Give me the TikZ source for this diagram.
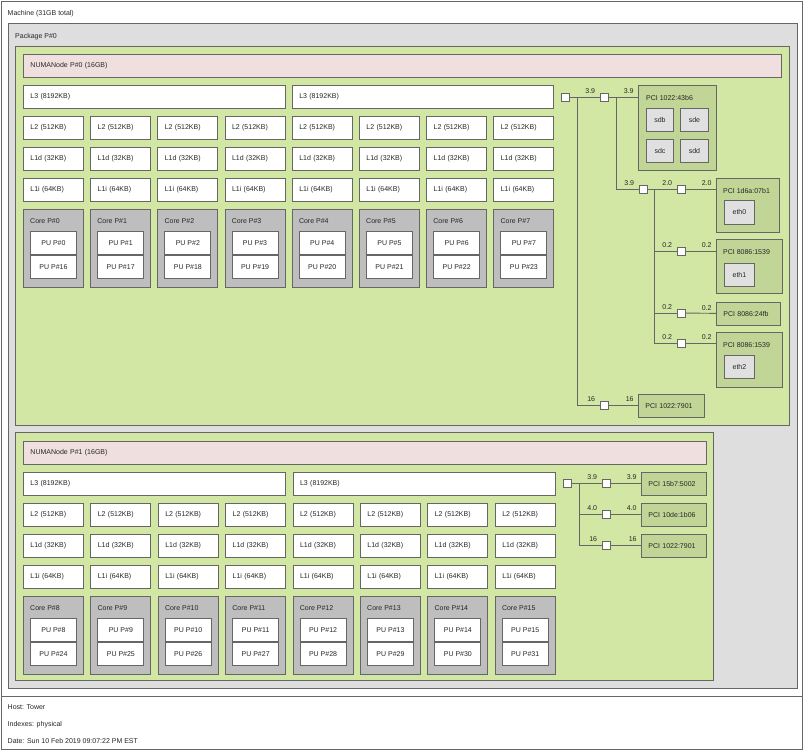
\documentclass[tikz,border=0pt]{standalone}
\usepackage{fontspec}
\setmainfont{Liberation Sans}
\usepackage{tikz}
\usetikzlibrary{positioning}
\definecolor{pkgfill}{HTML}{DEDEDE}
\definecolor{groupfill}{HTML}{D2E7A4}
\definecolor{numafill}{HTML}{EFDFDE}
\definecolor{corefill}{HTML}{BEBEBE}
\definecolor{pcifill}{HTML}{C1D596}
\definecolor{osfill}{HTML}{E0E0E0}
\newcommand{\topofont}{\fontsize{7}{8}\selectfont}
\tikzset{
frame/.style = {draw=black!60, line width=0.9pt, rectangle, inner sep=0pt, anchor=north west},
leaf/.style = {frame, fill=white, align=left, inner xsep=7pt, font=\topofont, text=black!85},
cache/.style = {leaf, text width=46pt, minimum height=23pt},
core/.style = {frame, fill=corefill, minimum width=60pt, minimum height=78pt},
pu/.style = {frame, fill=white, minimum width=46pt, minimum height=23pt, font=\topofont, text=black!85},
osdev/.style = {frame, fill=osfill, font=\topofont, text=black!85},
txt/.style = {inner sep=0pt, font=\topofont, text=black!85},
bridge/.style = {draw=black!60, line width=0.9pt, fill=white, minimum size=8pt, inner sep=0pt},
link/.style = {draw=black!60, line width=0.9pt},
speed/.style = {txt, pos=1, anchor=south east, xshift=-4pt, yshift=2.5pt}
}

\begin{document}
\begin{tikzpicture}[x=1pt, y=-1pt]
    \useasboundingbox (0,0) rectangle (805,750);
    % the outer boxes
    \node [frame, fill=white, minimum width=801pt, minimum height=695.5pt] (machine) at (0.5,0.5) {};
    \node [txt, below right=9.25pt and 7pt of machine.north west] (machineLbl) {Machine (31GB total)};
    \node [frame, fill=white, minimum width=801pt, minimum height=53pt] (legend) at (0.5,696) {};
    \node [txt, below right=8.5pt and 7pt of legend.north west] (host) {Host: Tower};
    \node [txt, below right=25.5pt and 7pt of legend.north west] (indexes) {Indexes: physical};
    \node [txt, below right=42.5pt and 7pt of legend.north west] (date) {Date: Sun 10 Feb 2019 09:07:22 PM EST};

    \node [frame, fill=pkgfill, minimum width=789pt, minimum height=665pt] (pkg) at (8,23) {};
    \node [txt, below right=10.25pt and 7pt of pkg.north west] (pkgLbl) {Package P\#0};
    \node [frame, fill=groupfill, minimum width=774pt, minimum height=379pt] (group0) at (15,46) {};
    \node [frame, fill=groupfill, minimum width=698pt, minimum height=248pt] (group1) at (15,432) {};
    \node [leaf, fill=numafill, text width=744pt, minimum height=23pt] (numa0) at (23,54) {NUMANode P\#0 (16GB)};
    \node [leaf, fill=numafill, text width=669pt, minimum height=23pt] (numa1) at (23,441) {NUMANode P\#1 (16GB)};

    % caches, cores and PUs
    \node [leaf, text width=247.6pt, minimum height=23pt] (L3-0) at (23,85) {L3 (8192KB)};
    \node [leaf, text width=247.6pt, minimum height=23pt] (L3-1) at (291.8,85) {L3 (8192KB)};
    \node [leaf, text width=248.2pt, minimum height=23pt] (L3-2) at (23,472) {L3 (8192KB)};
    \node [leaf, text width=248.2pt, minimum height=23pt] (L3-3) at (292.6,472) {L3 (8192KB)};
    \foreach \n/\ytop/\dx in {0/85/67.2, 1/472/67.4} {
      \foreach \c in {0,...,7} {
        \pgfmathsetmacro\xx{23+\c*\dx}
        \pgfmathtruncatemacro\k{8*\n+\c}
        \pgfmathtruncatemacro\m{\k+16}
        \node [cache] (L2-\k) at (\xx,\ytop+31) {L2 (512KB)};
        \node [cache] (L1d-\k) at (\xx,\ytop+62) {L1d (32KB)};
        \node [cache] (L1i-\k) at (\xx,\ytop+93) {L1i (64KB)};
        \node [core] (Core-\k) at (\xx,\ytop+124) {};
        \node [txt, below right=9.5pt and 7pt of Core-\k.north west] (CoreLbl-\k) {Core P\#\k};
        \node [pu, below right=22pt and 7pt of Core-\k.north west] (PU-\k) {PU P\#\k};
        \node [pu, below=0pt of PU-\k] (PU-\m) {PU P\#\m};
      }
    }

    % I/O of NUMANode P#0
    \node [frame, fill=pcifill, minimum width=78pt, minimum height=85pt] (pci43b6) at (638,85) {};
    \node [txt, below right=10pt and 8pt of pci43b6.north west] (pci43b6Lbl) {PCI 1022:43b6};
    \node [osdev, minimum width=27pt, minimum height=23pt] (sdb) at (646,108) {sdb};
    \node [osdev, minimum width=28pt, minimum height=23pt] (sde) at (680,108) {sde};
    \node [osdev, minimum width=27pt, minimum height=23pt] (sdc) at (646,139) {sdc};
    \node [osdev, minimum width=28pt, minimum height=23pt] (sdd) at (680,139) {sdd};
    \node [frame, fill=pcifill, minimum width=63pt, minimum height=54pt] (pci07b1) at (716,178) {};
    \node [txt, below right=10pt and 7pt of pci07b1.north west] (pci07b1Lbl) {PCI 1d6a:07b1};
    \node [osdev, minimum width=30pt, minimum height=24pt] (eth0) at (724,200) {eth0};
    \node [frame, fill=pcifill, minimum width=66pt, minimum height=54pt] (pci1539a) at (716,239) {};
    \node [txt, below right=10pt and 7pt of pci1539a.north west] (pci1539aLbl) {PCI 8086:1539};
    \node [osdev, minimum width=30pt, minimum height=23pt] (eth1) at (724,263) {eth1};
    \node [leaf, fill=pcifill, text width=50pt, minimum height=22.5pt] (pci24fb) at (716,302) {PCI 8086:24fb};
    \node [frame, fill=pcifill, minimum width=66pt, minimum height=55pt] (pci1539b) at (716,332) {};
    \node [txt, below right=10pt and 7pt of pci1539b.north west] (pci1539bLbl) {PCI 8086:1539};
    \node [osdev, minimum width=30pt, minimum height=23pt] (eth2) at (724,355) {eth2};
    \node [leaf, fill=pcifill, text width=52pt, minimum height=23pt] (pci7901a) at (638,394) {PCI 1022:7901};

    \coordinate (t0) at (577,97);
    \coordinate (j1) at (616,97);
    \coordinate (j2) at (654,189);
    \node [bridge] (hb0) at (565,97) {};
    \node [bridge] (br1) at (604,97) {};
    \node [bridge] (br2) at (643,189) {};
    \node [bridge] (br3) at (604,405) {};
    \node [bridge] (br4) at (681,189) {};
    \node [bridge] (br5) at (681,251) {};
    \node [bridge] (br6) at (681,313) {};
    \node [bridge] (br7) at (681,343) {};

    \draw [link] (hb0) -- node [speed] (s1a) {3.9} (br1);
    \draw [link] (br1) -- node [speed] (s1b) {3.9} (br1 -| pci43b6.west);
    \draw [link] (j1) |- node [speed] (s2) {3.9} (br2);
    \draw [link] (br2) -- node [speed] (s3a) {2.0} (br4);
    \draw [link] (br4) -- node [speed] (s3b) {2.0} (br4 -| pci07b1.west);
    \draw [link] (j2) |- node [speed] (s4a) {0.2} (br5);
    \draw [link] (br5) -- node [speed] (s4b) {0.2} (br5 -| pci1539a.west);
    \draw [link] (j2) |- node [speed] (s5a) {0.2} (br6);
    \draw [link] (br6) -- node [speed] (s5b) {0.2} (pci24fb);
    \draw [link] (j2) |- node [speed] (s6a) {0.2} (br7);
    \draw [link] (br7) -- node [speed] (s6b) {0.2} (br7 -| pci1539b.west);
    \draw [link] (t0) |- node [speed] (s7a) {16} (br3);
    \draw [link] (br3) -- node [speed] (s7b) {16} (br3 -| pci7901a.west);

    % I/O of NUMANode P#1
    \node [leaf, fill=pcifill, text width=51pt, minimum height=22.5pt] (pci5002) at (641,472) {PCI 15b7:5002};
    \node [leaf, fill=pcifill, text width=51pt, minimum height=23.5pt] (pci1b06) at (641,502.5) {PCI 10de:1b06};
    \node [leaf, fill=pcifill, text width=51pt, minimum height=23.5pt] (pci7901b) at (641,533.5) {PCI 1022:7901};
    \coordinate (t1) at (579,483);
    \node [bridge] (hb1) at (567,483) {};
    \node [bridge] (br8) at (606,483) {};
    \node [bridge] (br9) at (606,514) {};
    \node [bridge] (br10) at (606,545) {};

    \draw [link] (hb1) -- node [speed] (s8a) {3.9} (br8);
    \draw [link] (br8) -- node [speed] (s8b) {3.9} (br8 -| pci5002.west);
    \draw [link] (t1) |- node [speed] (s9a) {4.0} (br9);
    \draw [link] (br9) -- node [speed] (s9b) {4.0} (br9 -| pci1b06.west);
    \draw [link] (t1) |- node [speed] (s10a) {16} (br10);
    \draw [link] (br10) -- node [speed] (s10b) {16} (br10 -| pci7901b.west);
\end{tikzpicture}
\end{document}
